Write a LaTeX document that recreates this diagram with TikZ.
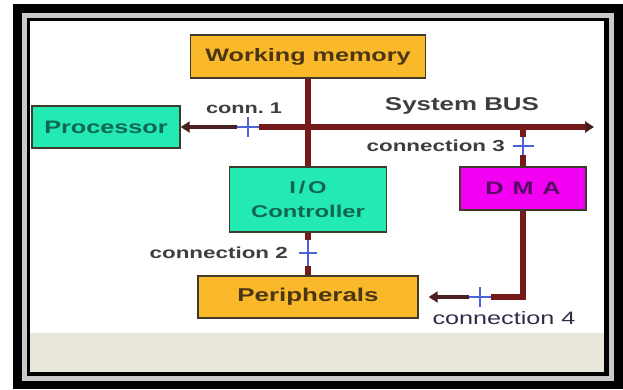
\documentclass[tikz,border=0pt]{standalone}
\usepackage{fontspec}
\setmainfont{Liberation Sans}[FakeStretch=1.4]
\usepackage{xcolor}
\usetikzlibrary{arrows.meta,calc}
\definecolor{mem-orange}{HTML}{F9B92B}
\definecolor{cpu-teal}{HTML}{22EAB2}
\definecolor{dma-magenta}{HTML}{F200F2}
\definecolor{bus-red}{HTML}{741A1A}
\definecolor{bus-dark}{HTML}{4A1F1F}
\definecolor{conn-blue}{HTML}{4A63D8}
\definecolor{frame-gray}{HTML}{C9C9C9}
\definecolor{frame-beige}{HTML}{E8E6D8}
\definecolor{box-edge}{HTML}{3F3A2A}
\definecolor{ink-brown}{HTML}{4A3612}
\definecolor{ink-teal}{HTML}{0F6652}
\definecolor{ink-purple}{HTML}{560A66}
\definecolor{ink-gray}{HTML}{3E3E3E}
\definecolor{ink-navy}{HTML}{2E2E48}

\begin{document}
\begin{tikzpicture}[x=1pt, y=-1pt,
    block/.style={draw=box-edge, line width=1.4pt, inner sep=0pt, font=\bfseries\fontsize{18}{22}\selectfont},
    bus/.style={draw=bus-red, line width=6pt},
    busend/.style={draw=bus-dark, line width=4.5pt},
    link/.style={draw=conn-blue, line width=1.3pt},
    tag/.style={color=ink-gray, inner sep=0pt, font=\bfseries\fontsize{16}{18}\selectfont},
    bustip/.style={-{Triangle[length=9pt,width=11pt,color=bus-dark]}}]
    \useasboundingbox (0,0) rectangle (623,389);
    \fill[black] (13,4) rectangle (623,389);
    \draw[frame-gray, line width=5pt] (24.5,15.5) rectangle (611.5,378.5);
    \fill[white] (30,21) rectangle (604,333);
    \fill[frame-beige] (30,333) rectangle (604,372);

    \node[block, fill=mem-orange, text=ink-brown, minimum width=235pt, minimum height=43pt] (mem) at (308,56.5) {Working memory};
    \node[block, fill=cpu-teal, text=ink-teal, minimum width=148pt, minimum height=42pt] (cpu) at (106,127) {Processor};
    \node[block, fill=cpu-teal, text=ink-teal, minimum width=157pt, minimum height=65pt, align=center, font=\bfseries\fontsize{17}{24}\selectfont] (io) at (308,199.5) {I\,/\,O\\Controller};
    \node[block, fill=dma-magenta, text=ink-purple, minimum width=126pt, minimum height=43pt] (dma) at (523,188.5) {D\enspace M\enspace A};
    \node[block, fill=mem-orange, text=ink-brown, minimum width=220pt, minimum height=42pt, font=\bfseries\fontsize{18.5}{22}\selectfont] (periph) at (308,297) {Peripherals};

    \coordinate (c1) at (248,127);
    \coordinate (c2) at (308,253);
    \coordinate (c3) at (523,146);
    \coordinate (c4) at (480,297);
    \coordinate (busend) at (594,127);

    \draw[busend, bustip] ($(c1)+(-11,0)$) -- (cpu.east);
    \draw[link] ($(c1)+(-11,0)$) -- ($(c1)+(11,0)$);
    \draw[link] ($(c1)+(0,-10)$) -- ($(c1)+(0,10)$);
    \draw[bus, bustip] ($(c1)+(11,0)$) -- (busend);
    \draw[bus] (mem.south) -- (io.north);

    \draw[bus] (io.south) -- ($(c2)+(0,-13)$);
    \draw[link] ($(c2)+(0,-13)$) -- ($(c2)+(0,13)$);
    \draw[link] ($(c2)+(-9,0)$) -- ($(c2)+(9,0)$);
    \draw[bus] ($(c2)+(0,13)$) -- (periph.north);

    \draw[bus] (c3 |- busend) -- ($(c3)+(0,-9)$);
    \draw[link] ($(c3)+(0,-9)$) -- ($(c3)+(0,9)$);
    \draw[link] ($(c3)+(-10,0)$) -- ($(c3)+(11,0)$);
    \draw[bus] ($(c3)+(0,9)$) -- (dma.north);

    \draw[bus] (dma.south) |- ($(c4)+(11,0)$);
    \draw[link] ($(c4)+(-11,0)$) -- ($(c4)+(11,0)$);
    \draw[link] ($(c4)+(0,-10)$) -- ($(c4)+(0,10)$);
    \draw[busend, bustip] ($(c4)+(-11,0)$) -- ([xshift=10pt]periph.east);

    \node[tag, font=\bfseries\fontsize{15.5}{18}\selectfont] (conn1) at (244,108) {conn.\ 1};
    \node[tag, font=\bfseries\fontsize{18.5}{20}\selectfont] (busname) at (462,106) {System BUS};
    \node[tag, anchor=east] (conn3) at (505,146) {connection 3};
    \node[tag, anchor=east] (conn2) at (288,253) {connection 2};
    \node[tag, text=ink-navy, font=\fontsize{18}{20}\selectfont] (conn4) at (504,318) {connection 4};
\end{tikzpicture}
\end{document}
